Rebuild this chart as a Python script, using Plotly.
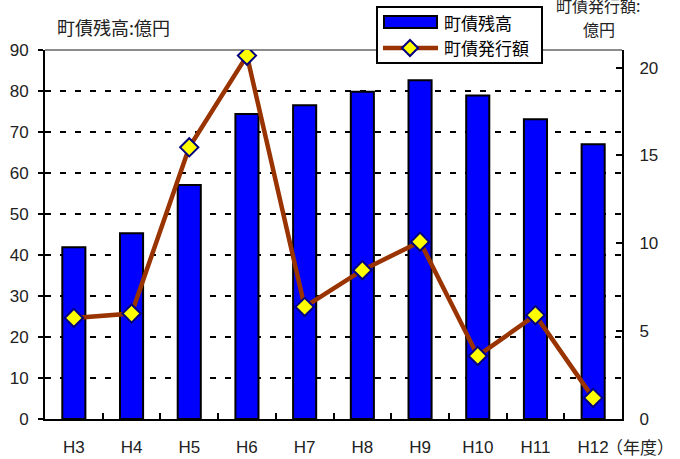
import plotly.graph_objects as go

# 年度別の町債残高（億円）と町債発行額（億円）
years = ["H3", "H4", "H5", "H6", "H7", "H8", "H9", "H10", "H11", "H12"]
balance = [41.9, 45.3, 57.1, 74.4, 76.5, 79.8, 82.6, 78.9, 73.1, 67.0]
issued = [5.75, 6.0, 15.46, 20.68, 6.38, 8.47, 10.09, 3.59, 5.91, 1.2]

left_ticks = list(range(0, 91, 10))
right_ticks = [0, 5, 10, 15, 20]

W, H = 680, 459
ML, MR, MT, MB = 45, 58, 50, 40
PW, PH = W - ML - MR, H - MT - MB

FONT = "Liberation Sans, Arial, Noto Sans CJK JP, sans-serif"
JFONT = "Noto Sans CJK JP, sans-serif"

BAR_BLUE = "#0000FF"
LINE_BROWN = "#993300"
MARK_YELLOW = "#FFFF00"
MARK_EDGE = "#000080"


def px(x):
    return (x - ML) / PW


def py(y):
    return (H - MB - y) / PH


fig = go.Figure()

fig.add_trace(go.Bar(
    x=years, y=balance, name="町債残高",
    width=0.4,
    marker=dict(color=BAR_BLUE, line=dict(color="black", width=2)),
    showlegend=False, hoverinfo="skip",
))

fig.add_trace(go.Scatter(
    x=years, y=issued, name="町債発行額", yaxis="y2",
    mode="lines+markers",
    line=dict(color=LINE_BROWN, width=4.5),
    marker=dict(symbol="diamond", size=14, color=MARK_YELLOW,
                line=dict(color=MARK_EDGE, width=2)),
    showlegend=False, hoverinfo="skip",
))

shapes = [
    # gray top border of the plot area
    dict(type="line", xref="paper", yref="paper", x0=0, x1=1, y0=1, y1=1,
         line=dict(color="#8c8c8c", width=2), layer="between"),
    # legend box
    dict(type="rect", xref="paper", yref="paper",
         x0=px(377), x1=px(542), y0=py(63), y1=py(7),
         line=dict(color="black", width=2), fillcolor="white", layer="above"),
    # bar swatch
    dict(type="rect", xref="paper", yref="paper",
         x0=px(384), x1=px(437), y0=py(28), y1=py(16),
         line=dict(color="black", width=2), fillcolor=BAR_BLUE, layer="above"),
    # line swatch
    dict(type="line", xref="paper", yref="paper",
         x0=px(383), x1=px(438), y0=py(48), y1=py(48),
         line=dict(color=LINE_BROWN, width=4.5), layer="above"),
]

# diamond marker swatch
cx, cy, r = 410, 48, 8
diamond = "M {} {} L {} {} L {} {} L {} {} Z".format(
    px(cx), py(cy - r), px(cx + r), py(cy), px(cx), py(cy + r), px(cx - r), py(cy))
shapes.append(dict(type="path", xref="paper", yref="paper", path=diamond,
                   fillcolor=MARK_YELLOW, line=dict(color=MARK_EDGE, width=2),
                   layer="above"))


def note(text, x, y, xanchor="left", size=17, color="#222"):
    return dict(text=text, x=px(x), y=py(y), xref="paper", yref="paper",
                xanchor=xanchor, yanchor="middle", showarrow=False,
                font=dict(family=JFONT, size=size, color=color))


annotations = [
    note("町債残高", 442, 23, color="black"),
    note("町債発行額", 442, 48, color="black"),
    note("町債残高:億円", 55, 27, size=18),
    note("町債発行額:", 598, 5, xanchor="center", size=16),
    note("億円", 599, 29, xanchor="center", size=16),
    note("（年度）", 604, 446, size=17),
]

fig.update_layout(
    width=W, height=H,
    margin=dict(l=ML, r=MR, t=MT, b=MB, pad=0, autoexpand=False),
    paper_bgcolor="white", plot_bgcolor="white",
    font=dict(family=FONT, size=17, color="black"),
    showlegend=False,
    bargap=0.6,
    shapes=shapes,
    annotations=annotations,
    xaxis=dict(
        type="category", range=[-0.5, 9.5], automargin=False,
        showline=True, linecolor="black", linewidth=2,
        ticks="inside", tickson="boundaries", ticklen=6, tickwidth=2,
        tickcolor="black", showgrid=False, ticklabelstandoff=12,
        tickfont=dict(family=FONT, size=17, color="#222"),
    ),
    yaxis=dict(
        range=[0, 90], tickvals=left_ticks, automargin=False,
        showline=True, linecolor="black", linewidth=2,
        ticks="outside", ticklen=5, tickwidth=2, tickcolor="black",
        showgrid=True, gridcolor="black", gridwidth=2, griddash="6px,9px",
        zeroline=False, ticklabelstandoff=6,
        tickfont=dict(family=FONT, size=17, color="#222"),
    ),
    yaxis2=dict(
        range=[0, 21], tickvals=right_ticks, overlaying="y", side="right",
        automargin=False,
        showline=True, linecolor="black", linewidth=2,
        ticks="inside", ticklen=6, tickwidth=2, tickcolor="black",
        showgrid=False, zeroline=False, ticklabelstandoff=12,
        tickfont=dict(family=FONT, size=17, color="#222"),
    ),
)

fig.write_html("out.html")
